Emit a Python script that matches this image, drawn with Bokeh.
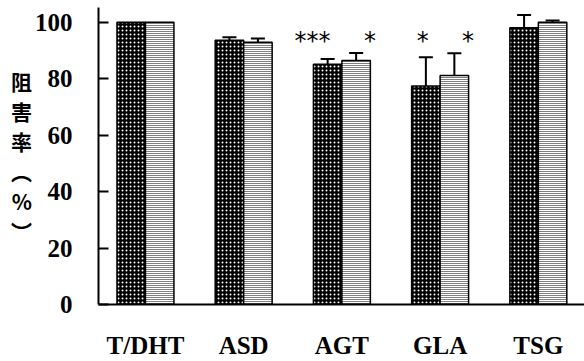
from bokeh.plotting import figure
from bokeh.models import Range1d, FixedTicker, Whisker, TeeHead, ColumnDataSource
from bokeh.embed import file_html
from bokeh.resources import INLINE
from bokeh.core.properties import value

categories = ["T/DHT", "ASD", "AGT", "GLA", "TSG"]
dark_values = [100.0, 93.6, 85.1, 77.4, 98.0]
dark_errors = [0.0, 1.1, 1.9, 10.2, 4.5]
striped_values = [100.0, 92.9, 86.4, 81.1, 100.0]
striped_errors = [0.0, 1.3, 2.7, 7.9, 0.6]
dark_marks = ["", "", "***", "*", ""]
striped_marks = ["", "", "*", "*", ""]
y_ticks = [0, 20, 40, 60, 80, 100]
y_title = "阻\n害\n率\n︵\n%\n︶"

BAR_W = 0.29
OFF = 0.145
STAR_Y = 98.2

idx = list(range(len(categories)))
x_dark = [i - OFF for i in idx]
x_str = [i + OFF for i in idx]

p = figure(width=584, height=361, output_backend="svg", toolbar_location=None,
           x_range=Range1d(-0.478, 4.47), y_range=Range1d(0, 105.2),
           min_border_left=98, min_border_right=0, min_border_top=7, min_border_bottom=56)
p.outline_line_color = None
p.xgrid.visible = False
p.ygrid.visible = False
p.background_fill_color = "white"

p.vbar(x=x_dark, top=dark_values, bottom=0, width=BAR_W,
       fill_color="black", hatch_pattern="dot", hatch_color="white",
       hatch_scale=4, hatch_weight=1, line_color="black", line_width=1.5)
p.vbar(x=x_str, top=striped_values, bottom=0, width=BAR_W,
       fill_color="white", hatch_pattern="horizontal_line", hatch_color="black",
       hatch_scale=2, hatch_weight=1, line_color="black", line_width=1.5)

for xs, vals, errs in ((x_dark, dark_values, dark_errors), (x_str, striped_values, striped_errors)):
    src = ColumnDataSource(dict(
        base=[x for x, e in zip(xs, errs) if e > 0],
        lower=[v for v, e in zip(vals, errs) if e > 0],
        upper=[v + e for v, e in zip(vals, errs) if e > 0]))
    w = Whisker(source=src, base="base", lower="lower", upper="upper", dimension="height",
                line_color="black", line_width=2, lower_head=None,
                upper_head=TeeHead(size=14, line_width=2, line_color="black"))
    p.add_layout(w)

star_font = value("DejaVu Sans")
p.text(x=[x + 0.03 for x in x_dark], y=[STAR_Y] * len(idx), text=dark_marks,
       text_font=star_font, text_font_size="24px", text_align="right",
       text_baseline="top", text_color="black")
p.text(x=[x + 0.14 for x in x_str], y=[STAR_Y] * len(idx), text=striped_marks,
       text_font=star_font, text_font_size="24px", text_align="center",
       text_baseline="top", text_color="black")

xa = p.xaxis[0]
xa.ticker = FixedTicker(ticks=idx)
xa.major_label_overrides = {i: c for i, c in zip(idx, categories)}
xa.major_tick_in = 0
xa.major_tick_out = 0
xa.major_tick_line_color = None
xa.minor_tick_line_color = None
xa.axis_line_width = 2
xa.major_label_text_font = "Liberation Serif"
xa.major_label_text_font_style = "bold"
xa.major_label_text_font_size = "25px"
xa.major_label_text_color = "black"
xa.major_label_standoff = 27

ya = p.yaxis[0]
ya.ticker = FixedTicker(ticks=y_ticks)
ya.major_tick_in = 10
ya.major_tick_out = 0
ya.major_tick_line_width = 2
ya.minor_tick_line_color = None
ya.axis_line_width = 2
ya.major_label_text_font = "Liberation Serif"
ya.major_label_text_font_style = "bold"
ya.major_label_text_font_size = "25px"
ya.major_label_text_color = "black"
ya.major_label_standoff = 26
ya.axis_label = y_title
ya.axis_label_orientation = "horizontal"
ya.axis_label_standoff = 0
ya.axis_label_text_font = "Noto Sans CJK JP"
ya.axis_label_text_font_style = "bold"
ya.axis_label_text_font_size = "21px"
ya.axis_label_text_line_height = 1.0
ya.axis_label_text_color = "black"

open("out.html", "w").write(file_html(p, INLINE))
